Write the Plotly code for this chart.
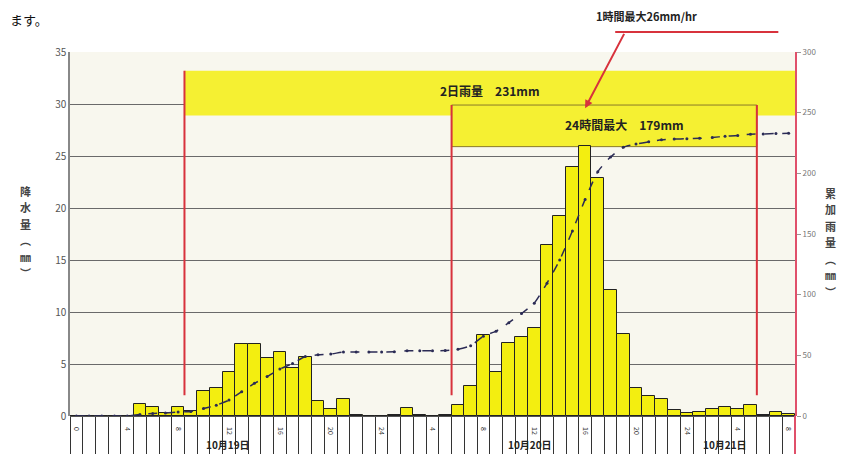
import plotly.graph_objects as go

# hourly rainfall (mm/hr), hour 0 = 10/19 0:00
hours = list(range(57))
hourly_rain = [
    0, 0, 0, 0, 0, 1.2, 0.9, 0.3, 0.9, 0.5,
    2.4, 2.7, 4.2, 6.9, 6.9, 5.6, 6.2, 4.6, 5.7, 1.4,
    0.7, 1.6, 0.1, 0, 0, 0.1, 0.8, 0.1, 0, 0.1,
    1.1, 2.9, 7.8, 4.2, 7.0, 7.6, 8.5, 16.4, 19.2, 23.9,
    26.0, 22.9, 12.1, 7.9, 2.7, 1.9, 1.6, 0.6, 0.3, 0.4,
    0.7, 0.9, 0.7, 1.1, 0.1, 0.4, 0.2,
]
# cumulative rainfall (mm)
cumulative_rain = [
    0, 0, 0, 0, 0, 1.2, 2.1, 2.4, 3.3, 3.8,
    6.2, 8.9, 13.1, 20.0, 26.9, 32.5, 38.7, 43.3, 49.0, 50.4,
    51.1, 52.7, 52.8, 52.8, 52.8, 52.9, 53.7, 53.8, 53.8, 53.9,
    55.0, 57.9, 65.7, 69.9, 76.9, 84.5, 93.0, 109.4, 128.6, 152.5,
    178.5, 201.4, 213.5, 221.4, 224.1, 226.0, 227.6, 228.2, 228.5, 228.9,
    229.6, 230.5, 231.2, 232.3, 232.4, 232.8, 233.0,
]
hour_label_pos = [0, 4, 8, 12, 16, 20, 24, 28, 32, 36, 40, 44, 48, 52, 56]
hour_labels = ["0", "4", "8", "12", "16", "20", "24", "4", "8", "12", "16", "20", "24", "4", "8"]
day_labels = ["10月19日", "10月20日", "10月21日"]
day_label_pos = [11.9, 35.7, 51.0]

# periods (hour boundaries) and the band heights they are drawn at
two_day_period = [8.5, 56.5]
two_day_band = [28.9, 33.2]
day_max_period = [29.5, 53.5]
day_max_band = [25.9, 29.9]
peak_hour = 40

left_title = ["降", "水", "量", "︵", "㎜", "︶"]
right_title = ["累", "加", "雨", "量", "︵", "㎜", "︶"]

FONT = "Noto Sans CJK JP"
YELLOW = "#f3ee10"
RED = "#d8323c"
H = 364.0  # plot height in px, used to turn pixel offsets into paper units
STEP = 16.5  # vertical spacing of the stacked axis-title characters

fig = go.Figure()
fig.add_trace(go.Bar(
    x=hours, y=hourly_rain, width=1,
    marker=dict(color=YELLOW, line=dict(color="#222222", width=1)),
    showlegend=False,
))
fig.add_trace(go.Scatter(
    x=hours, y=cumulative_rain, xaxis="x2", yaxis="y2",
    mode="lines+markers",
    line=dict(color="#2b2b55", width=1.5, dash="dash", shape="spline", smoothing=0.6),
    marker=dict(size=3, color="#2b2b55"),
    showlegend=False,
))

# rainfall period bands
fig.add_shape(type="rect", layer="between", line_width=0, fillcolor="#f5f032",
              x0=two_day_period[0], x1=two_day_period[1], y0=two_day_band[0], y1=two_day_band[1])
fig.add_shape(type="rect", layer="between", line=dict(color="#8a7a2a", width=1), fillcolor="#f5f032",
              x0=day_max_period[0], x1=day_max_period[1], y0=day_max_band[0], y1=day_max_band[1])
fig.add_shape(type="line", line=dict(color=RED, width=2),
              x0=two_day_period[0], x1=two_day_period[0], y0=2, y1=two_day_band[1])
for xb in day_max_period:
    fig.add_shape(type="line", line=dict(color=RED, width=2), x0=xb, x1=xb, y0=2, y1=day_max_band[1])
# red right axis continuing into the time table
fig.add_shape(type="line", xref="paper", yref="paper", line=dict(color="#e0506a", width=2),
              x0=1, x1=1, y0=-0.12, y1=0)

fig.add_annotation(x=32.5, y=31.3, text="2日雨量　231mm", showarrow=False,
                   font=dict(family=FONT, size=12, color="#222222", weight="bold"))
fig.add_annotation(x=43.1, y=28.0, text="24時間最大　179mm", showarrow=False,
                   font=dict(family=FONT, size=12, color="#222222", weight="bold"))
# peak-hour call-out
fig.add_annotation(x=0.867, y=1.0, xref="paper", yref="paper", yanchor="bottom", yshift=26,
                   text="1時間最大26mm/hr", showarrow=False,
                   font=dict(family=FONT, size=11, color="#222222", weight="bold"))
fig.add_shape(type="line", xref="paper", yref="paper", line=dict(color=RED, width=2),
              x0=0.752, x1=0.977, y0=1 + 20 / H, y1=1 + 20 / H)
fig.add_annotation(x=peak_hour, y=day_max_band[1] - 0.3, text=" ", showarrow=True,
                   ax=42, ay=-80, arrowcolor=RED, arrowwidth=2, arrowhead=2, arrowsize=0.8)

for lab, pos in zip(day_labels, day_label_pos):
    fig.add_annotation(x=pos, y=0, yref="paper", yanchor="bottom", yshift=-38, text=lab,
                       showarrow=False, font=dict(family=FONT, size=10, color="#222222", weight="bold"))

for i, ch in enumerate(left_title):
    fig.add_annotation(x=-0.072, y=0.505, xref="paper", yref="paper",
                       yshift=(len(left_title) - 1) / 2 * STEP - i * STEP,
                       text=ch, showarrow=False,
                       font=dict(family=FONT, size=11, color="#444444", weight="bold"))
for i, ch in enumerate(right_title):
    fig.add_annotation(x=1.059, y=0.478, xref="paper", yref="paper",
                       yshift=(len(right_title) - 1) / 2 * STEP - i * STEP,
                       text=ch, showarrow=False,
                       font=dict(family=FONT, size=11, color="#444444", weight="bold"))
fig.add_annotation(x=0.0, y=1.0, xref="paper", yref="paper", xanchor="left", yanchor="top",
                   xshift=-62, yshift=44, text="ます。", showarrow=False,
                   font=dict(family=FONT, size=13, color="#111111"))

# the page body adds an 8px offset, so the figure is 8px smaller each way
fig.update_layout(
    width=840, height=446,
    margin=dict(l=62, r=53, t=44, b=38, autoexpand=False),
    paper_bgcolor="white",
    plot_bgcolor="#f8f7ee",
    bargap=0,
    font=dict(family=FONT),
    xaxis=dict(
        range=[-0.5, 56.5], tickvals=[h - 0.5 for h in hours] + [56.5],
        ticks="outside", ticklen=38, tickcolor="#333333", tickwidth=1,
        showticklabels=False, showgrid=False, zeroline=False, showline=False,
        automargin=False,
    ),
    xaxis2=dict(
        range=[-0.5, 56.5], overlaying="x", anchor="y", side="bottom",
        tickvals=hour_label_pos, ticktext=hour_labels, ticks="",
        tickangle=90, tickfont=dict(size=7, color="#333333"), ticklabelstandoff=10,
        showgrid=False, zeroline=False, showline=False, automargin=False,
    ),
    yaxis=dict(
        range=[0, 35], dtick=5, showgrid=True, gridcolor="#6a6a6a", gridwidth=1,
        zeroline=True, zerolinecolor="#555555", zerolinewidth=1,
        showline=True, linecolor="#888888", linewidth=1.5,
        tickfont=dict(size=10, color="#555555"), automargin=False,
    ),
    yaxis2=dict(
        range=[0, 300], dtick=50, overlaying="y", side="right", showgrid=False,
        zeroline=False, showline=True, linecolor="#e0506a", linewidth=2,
        ticks="outside", ticklen=4, tickcolor="#999999",
        tickfont=dict(size=8, color="#777777"), automargin=False,
    ),
)

fig.write_html("out.html")
